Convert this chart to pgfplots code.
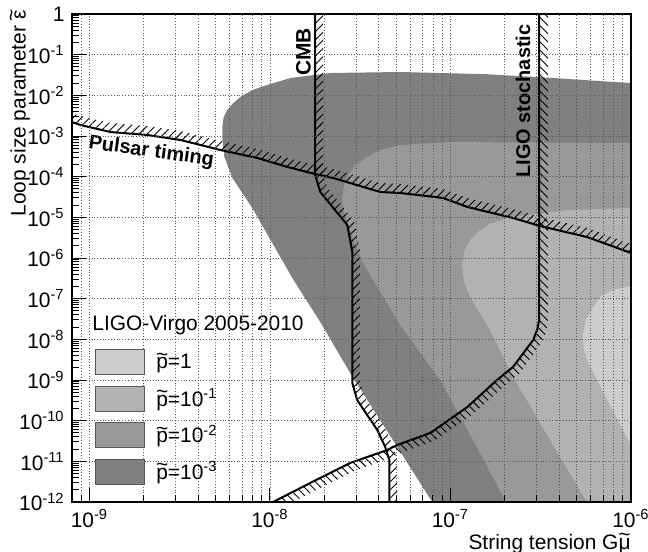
\documentclass[border=0pt]{standalone}
\usepackage{fontspec}
\setmainfont{Liberation Sans}
\usepackage{pgfplots}
\pgfplotsset{compat=1.18}
\usetikzlibrary{patterns.meta}

\definecolor{pone}{gray}{0.80}
\definecolor{ptwo}{gray}{0.70}
\definecolor{pthree}{gray}{0.60}
\definecolor{pfour}{gray}{0.50}

\newlength\tldw
\newcommand\tld[1]{\settowidth\tldw{#1}\makebox[\tldw][c]{\raisebox{0.36em}{\char"7E}}\kern-\tldw#1}
\newcommand\ex[1]{\textsuperscript{#1}}

\begin{document}
\fontsize{10.5}{12.6}\selectfont
\begin{tikzpicture}
\begin{axis}[
  xmode=log, ymode=log,
  width=279.5bp, height=244bp, scale only axis,
  xmin=8e-10, xmax=1e-6, ymin=1e-12, ymax=1,
  axis on top,
  axis line style={line width=0.6bp},
  tick align=inside, tick pos=left,
  major tick length=7bp, minor tick length=3.5bp,
  every tick/.style={black, line width=0.5bp},
  xtick={1e-9,1e-8,1e-7,1e-6},
  xticklabels={10\ex{-9},10\ex{-8},10\ex{-7},10\ex{-6}},
  minor xtick={9e-10,2e-9,3e-9,4e-9,5e-9,6e-9,7e-9,8e-9,9e-9,
    2e-8,3e-8,4e-8,5e-8,6e-8,7e-8,8e-8,9e-8,
    2e-7,3e-7,4e-7,5e-7,6e-7,7e-7,8e-7,9e-7},
  ytick={1e-12,1e-11,1e-10,1e-9,1e-8,1e-7,1e-6,1e-5,1e-4,1e-3,1e-2,1e-1,1},
  yticklabels={10\ex{-12},10\ex{-11},10\ex{-10},10\ex{-9},10\ex{-8},10\ex{-7},
    10\ex{-6},10\ex{-5},10\ex{-4},10\ex{-3},10\ex{-2},10\ex{-1},1},
  minor ytick={2e-12,3e-12,4e-12,5e-12,6e-12,7e-12,8e-12,9e-12,
    2e-11,3e-11,4e-11,5e-11,6e-11,7e-11,8e-11,9e-11,
    2e-10,3e-10,4e-10,5e-10,6e-10,7e-10,8e-10,9e-10,
    2e-9,3e-9,4e-9,5e-9,6e-9,7e-9,8e-9,9e-9,
    2e-8,3e-8,4e-8,5e-8,6e-8,7e-8,8e-8,9e-8,
    2e-7,3e-7,4e-7,5e-7,6e-7,7e-7,8e-7,9e-7,
    2e-6,3e-6,4e-6,5e-6,6e-6,7e-6,8e-6,9e-6,
    2e-5,3e-5,4e-5,5e-5,6e-5,7e-5,8e-5,9e-5,
    2e-4,3e-4,4e-4,5e-4,6e-4,7e-4,8e-4,9e-4,
    2e-3,3e-3,4e-3,5e-3,6e-3,7e-3,8e-3,9e-3,
    2e-2,3e-2,4e-2,5e-2,6e-2,7e-2,8e-2,9e-2,
    2e-1,3e-1,4e-1,5e-1,6e-1,7e-1,8e-1,9e-1},
  xmajorgrids, xminorgrids, ymajorgrids,
  grid style={densely dotted, black!65, line width=0.45bp},
  minor grid style={densely dotted, black!65, line width=0.45bp},
  xlabel={String tension G\tld{μ}},
  ylabel={Loop size parameter \tld{ε}},
  xlabel style={at={(rel axis cs:1,-0.0635)}, anchor=north east, inner sep=0pt},
  ylabel style={at={(rel axis cs:-0.093,1.008)}, anchor=east, inner sep=0pt},
  legend style={draw=none, fill=none, at={(rel axis cs:0.0411,0.3135)}, anchor=north west,
    inner sep=0pt, row sep=5.25bp, column sep=5.5bp, nodes={inner sep=0pt, anchor=west}},
  legend cell align=left,
  legend image code/.code={\draw[#1, draw=black!65, line width=0.5bp] (0bp,-6.25bp) rectangle (24.5bp,6.25bp);},
]

% p = 1e-3
\addplot[fill=pfour, draw=none, forget plot] coordinates {
  (2.5e-6,1.9e-2) (1e-6,2.0e-2) (3.7e-7,2.67e-2) (1.6e-7,3.3e-2) (5.27e-8,3.75e-2)
  (2.16e-8,3.54e-2) (1.30e-8,2.67e-2) (9.66e-9,1.80e-2) (7.98e-9,1.35e-2)
  (6.85e-9,9.10e-3) (6.19e-9,6.12e-3) (5.80e-9,4.36e-3) (5.52e-9,2.77e-3)
  (5.45e-9,1.66e-3) (5.45e-9,7.98e-4) (5.59e-9,3.05e-4) (6.19e-9,9.27e-5)
  (7.98e-9,1.70e-5) (1.35e-8,2.88e-7) (1.90e-8,2.67e-8) (2.78e-8,1.49e-9)
  (5.33e-8,1.6e-11) (7.92e-8,1e-12) (9.83e-8,2e-13) (2.5e-6,2e-13)
} -- cycle;

% p = 1e-2
\addplot[fill=pthree, draw=none, forget plot] coordinates {
  (2.5e-6,6.6e-4) (1e-6,6.73e-4) (1e-7,7.11e-4) (5.27e-8,6.0e-4) (4.08e-8,4.53e-4)
  (3.46e-8,3.05e-4) (2.97e-8,1.94e-4) (2.68e-8,1.04e-4) (2.55e-8,5.26e-5)
  (2.51e-8,2.67e-5) (2.58e-8,1.35e-5) (2.71e-8,6.49e-6) (2.97e-8,2.09e-6)
  (3.28e-8,7.54e-7) (5.27e-8,2.25e-8) (8.77e-8,1e-9) (1.334e-7,3.35e-11)
  (2.03e-7,1e-12) (2.52e-7,2e-13) (2.5e-6,2e-13)
} -- cycle;

% p = 1e-1
\addplot[fill=ptwo, draw=none, forget plot] coordinates {
  (2.5e-6,1.7e-5) (1e-6,1.7e-5) (4.42e-7,1.51e-5) (2.06e-7,9.63e-6) (1.657e-7,6.86e-6)
  (1.46e-7,4.89e-6) (1.285e-7,2.77e-6) (1.19e-7,1.41e-6) (1.16e-7,6.73e-7)
  (1.19e-7,2.57e-7) (1.285e-7,1.1e-7) (1.657e-7,1.7e-8) (2.03e-7,2.77e-9)
  (2.28e-7,1e-9) (3.56e-7,3.35e-11) (5.71e-7,1e-12) (7.0e-7,2e-13) (2.5e-6,2e-13)
} -- cycle;

% p = 1
\addplot[fill=pone, draw=none, forget plot] coordinates {
  (2.5e-6,2.2e-7) (1e-6,2.05e-7) (7.95e-7,1.63e-7) (6.74e-7,1.1e-7) (6.16e-7,6.24e-8)
  (5.63e-7,2.99e-8) (5.42e-7,1.28e-8) (5.48e-7,5.47e-9) (5.78e-7,2.77e-9)
  (6.48e-7,1e-9) (9.87e-7,2.82e-11) (1.45e-6,1.12e-12) (1.87e-6,1.2e-13) (2.5e-6,1e-13)
} -- cycle;

% hatched bands
\addplot[draw=none, forget plot, pattern={Lines[angle=45,distance=2.9bp,line width=0.45bp]}] coordinates {
  (8e-10,2.21e-3) (8.92e-10,1.86e-3) (1.31e-9,1.25e-3) (2.09e-9,1.06e-3) (3.19e-9,7.98e-4)
  (5.31e-9,4.53e-4) (8.51e-9,2.88e-4) (1.25e-8,1.73e-4) (1.78e-8,1.16e-4) (2.24e-8,9.27e-5)
  (4.08e-8,4.2e-5) (5.27e-8,3.97e-5) (9.11e-8,2.99e-5) (1.24e-7,1.8e-5) (2.22e-7,9.63e-6)
  (3.135e-7,6.12e-6) (5.71e-7,3.28e-6) (1e-6,1.33e-6)
  (1e-6,2.21e-6) (5.71e-7,5.47e-6) (3.135e-7,1.02e-5) (2.22e-7,1.60e-5) (1.24e-7,2.99e-5)
  (9.11e-8,4.98e-5) (5.27e-8,6.60e-5) (4.08e-8,6.98e-5) (2.24e-8,1.55e-4) (1.78e-8,1.94e-4)
  (1.25e-8,2.88e-4) (8.51e-9,4.79e-4) (5.31e-9,7.54e-4) (3.19e-9,1.33e-3) (2.09e-9,1.76e-3)
  (1.31e-9,2.09e-3) (8.92e-10,3.10e-3) (8e-10,3.68e-3)
} -- cycle;

\addplot[draw=none, forget plot, pattern={Lines[angle=45,distance=2.9bp,line width=0.45bp]}] coordinates {
  (1.78e-8,1) (1.78e-8,1.1e-4) (1.9e-8,4.2e-5) (2.68e-8,6.49e-6) (2.86e-8,1.41e-6)
  (2.86e-8,8.43e-10) (3.04e-8,3.22e-10) (3.93e-8,5.9e-11) (4.35e-8,2.25e-11)
  (4.58e-8,1.08e-11) (4.58e-8,1e-12)
  (5.07e-8,1e-12) (5.07e-8,1.14e-11) (4.75e-8,2.67e-11) (4.29e-8,7.4e-11)
  (3.33e-8,4.04e-10) (3.16e-8,8.93e-10) (3.16e-8,1.41e-6) (2.93e-8,8.13e-6)
  (2.08e-8,5.26e-5) (1.97e-8,1.16e-4) (1.97e-8,1)
} -- cycle;

\addplot[draw=none, forget plot, pattern={Lines[angle=-45,distance=2.9bp,line width=0.45bp]}] coordinates {
  (3.10e-7,1) (3.10e-7,2.99e-8) (3.02e-7,1.70e-8) (2.87e-7,9.63e-9) (2.22e-7,2.09e-9)
  (1.81e-7,1e-9) (1.24e-7,2.17e-10) (7.72e-8,4.98e-11) (5.07e-8,2.52e-11) (4.46e-8,1.9e-11)
  (2.78e-8,9.1e-12) (1.67e-8,2.93e-12) (1.04e-8,1e-12) (8.29e-9,6.0e-13)
  (1.10e-8,6.36e-13) (1.76e-8,1.86e-12) (2.93e-8,5.78e-12) (4.63e-8,1.21e-11)
  (5.27e-8,1.6e-11) (8.12e-8,3.16e-11) (1.334e-7,1.46e-10) (1.956e-7,6.73e-10)
  (2.43e-7,1.49e-9) (3.18e-7,8.13e-9) (3.38e-7,1.43e-8) (3.47e-7,2.99e-8) (3.47e-7,1)
} -- cycle;

% limit curves
\addplot[black, line width=1bp, forget plot] coordinates {
  (8e-10,2.21e-3) (8.92e-10,1.86e-3) (1.31e-9,1.25e-3) (2.09e-9,1.06e-3) (3.19e-9,7.98e-4)
  (5.31e-9,4.53e-4) (8.51e-9,2.88e-4) (1.25e-8,1.73e-4) (1.78e-8,1.16e-4) (2.24e-8,9.27e-5)
  (4.08e-8,4.2e-5) (5.27e-8,3.97e-5) (9.11e-8,2.99e-5) (1.24e-7,1.8e-5) (2.22e-7,9.63e-6)
  (3.135e-7,6.12e-6) (5.71e-7,3.28e-6) (1e-6,1.33e-6)
};
\addplot[black, line width=1bp, forget plot] coordinates {
  (1.78e-8,1) (1.78e-8,1.1e-4) (1.9e-8,4.2e-5) (2.68e-8,6.49e-6) (2.86e-8,1.41e-6)
  (2.86e-8,8.43e-10) (3.04e-8,3.22e-10) (3.93e-8,5.9e-11) (4.35e-8,2.25e-11)
  (4.58e-8,1.08e-11) (4.58e-8,1e-12)
};
\addplot[black, line width=1bp, forget plot] coordinates {
  (3.10e-7,1) (3.10e-7,2.99e-8) (3.02e-7,1.70e-8) (2.87e-7,9.63e-9) (2.22e-7,2.09e-9)
  (1.81e-7,1e-9) (1.24e-7,2.17e-10) (7.72e-8,4.98e-11) (5.07e-8,2.52e-11) (4.46e-8,1.9e-11)
  (2.78e-8,9.1e-12) (1.67e-8,2.93e-12) (1.04e-8,1e-12) (8.29e-9,6.0e-13)
};

\addlegendimage{fill=pone}
\addlegendentry{\tld{p}=1}
\addlegendimage{fill=ptwo}
\addlegendentry{\tld{p}=10\ex{-1}}
\addlegendimage{fill=pthree}
\addlegendentry{\tld{p}=10\ex{-2}}
\addlegendimage{fill=pfour}
\addlegendentry{\tld{p}=10\ex{-3}}

\node[anchor=west, inner sep=0pt] at (rel axis cs:0.0358,0.3627) {LIGO-Virgo 2005-2010};
\node[font=\fontsize{10}{12}\selectfont\bfseries, rotate=-8] at (axis cs:2.2e-9,4.04e-4) {Pulsar timing};
\node[font=\bfseries, rotate=90] at (axis cs:1.53e-8,0.116) {CMB};
\node[font=\fontsize{10}{12}\selectfont\bfseries, rotate=90] at (axis cs:2.52e-7,7.26e-3) {LIGO stochastic};
\end{axis}
\pgfresetboundingbox
\path ([shift={(-36bp,-25bp)}]current axis.south west) rectangle ([shift={(8.5bp,7bp)}]current axis.north east);
\end{tikzpicture}
\end{document}
